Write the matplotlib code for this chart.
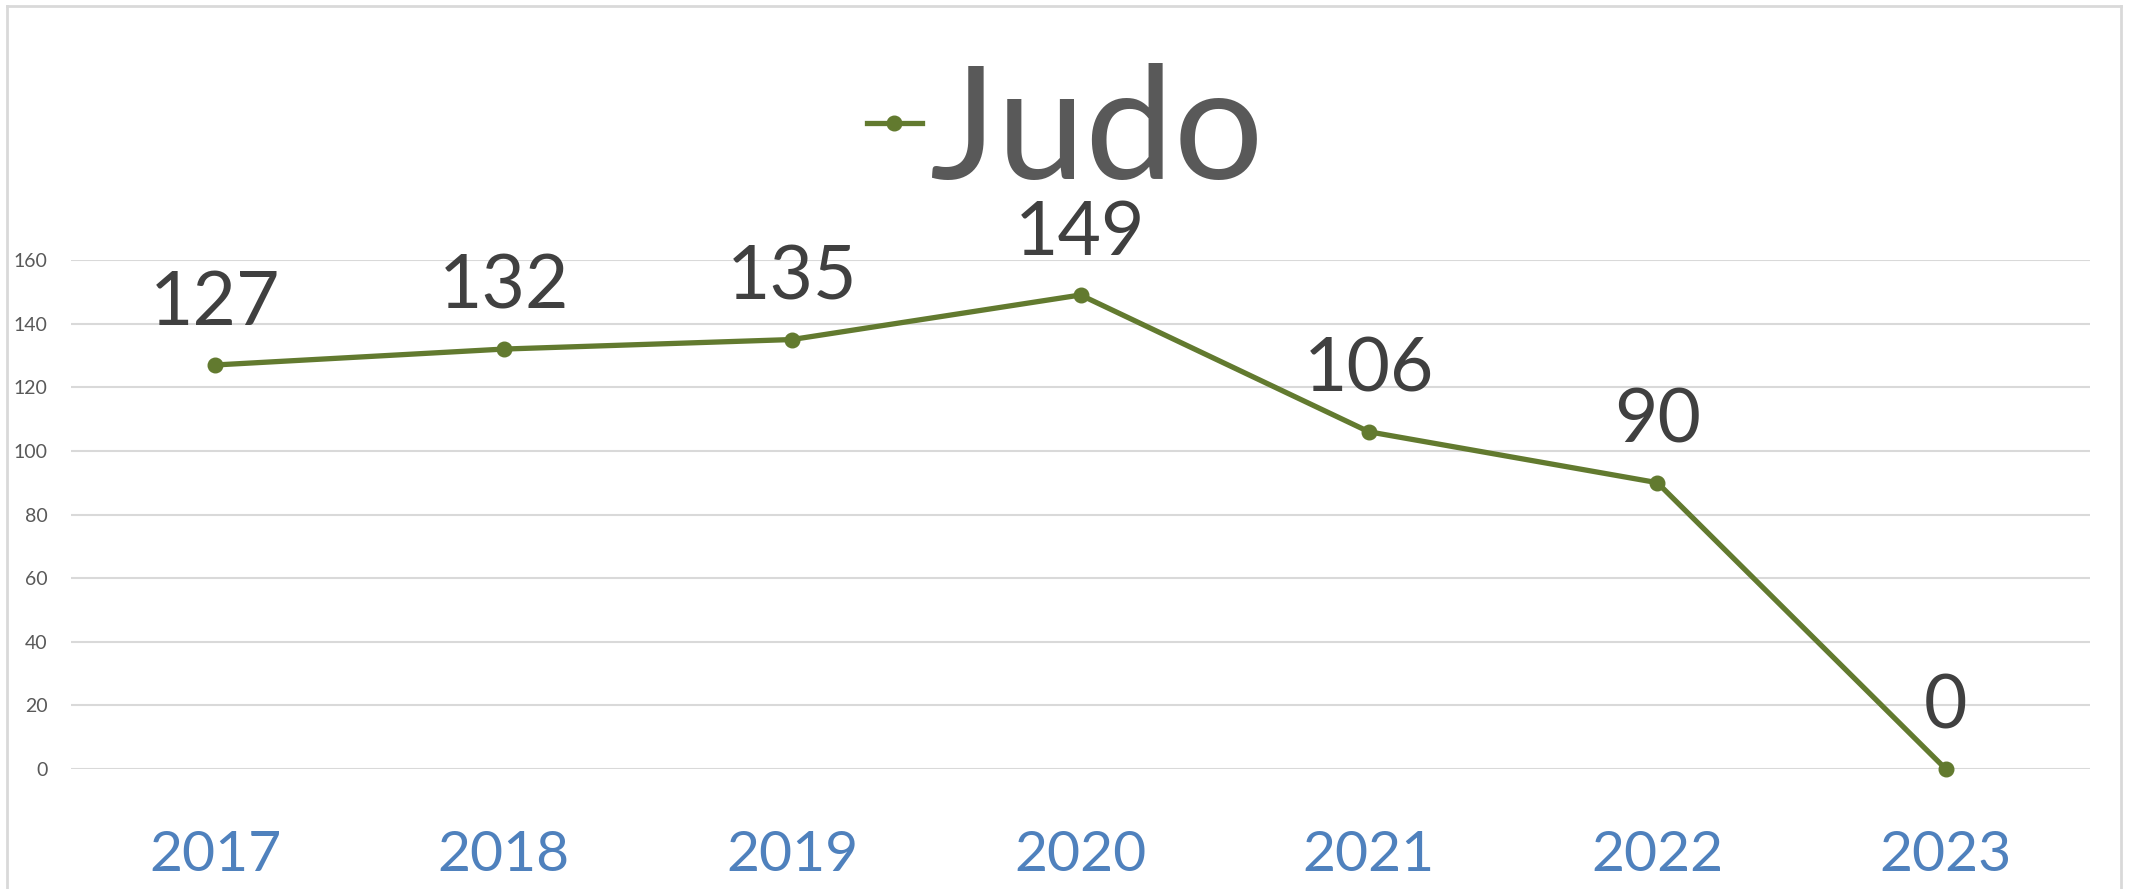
import matplotlib
matplotlib.use("Agg")
import matplotlib.pyplot as plt
from matplotlib.lines import Line2D

years = ['2017', '2018', '2019', '2020', '2021', '2022', '2023']
judo = [127, 132, 135, 149, 106, 90, 0]

green = '#627a2f'
plt.rcParams['font.family'] = ['Lato', 'DejaVu Sans']

fig = plt.figure(figsize=(21.35, 8.89), dpi=100)
ax = fig.add_axes([71 / 2135, 120 / 889, (2090 - 71) / 2135, (769 - 260) / 889])

x = list(range(len(years)))
ax.plot(x, judo, color=green, linewidth=3.8, marker='o', markersize=10.5,
        solid_capstyle='round', label='Judo', clip_on=False, zorder=3)

for xi, v in zip(x, judo):
    ax.annotate(str(v), (xi, v), xytext=(0, 29), textcoords='offset points',
                ha='center', va='baseline', fontsize=54, color='#404040',
                annotation_clip=False)

ax.set_xlim(-0.5, len(years) - 0.5)
ax.set_ylim(0, 160)
ax.set_yticks(range(0, 161, 20))
ax.set_xticks(x)
ax.set_xticklabels(years)
ax.grid(axis='y', color='#d9d9d9', linewidth=1.5)
ax.set_axisbelow(True)
for s in ax.spines.values():
    s.set_visible(False)
ax.tick_params(axis='y', length=0, pad=17, labelsize=14, labelcolor='#595959')
ax.tick_params(axis='x', length=0, pad=44, labelsize=41, labelcolor='#4f81bd')

# chart border (bottom edge is cut off in the original)
bc = '#d9d9d9'
fig.add_artist(Line2D([7 / 2135, 7 / 2135], [0, 1 - 6 / 889], color=bc, lw=2, transform=fig.transFigure))
fig.add_artist(Line2D([7 / 2135, 2121 / 2135], [1 - 6 / 889, 1 - 6 / 889], color=bc, lw=2, transform=fig.transFigure))
fig.add_artist(Line2D([2121 / 2135, 2121 / 2135], [0, 1 - 6 / 889], color=bc, lw=2, transform=fig.transFigure))

handle = Line2D([], [], color=green, linewidth=3.8, marker='o', markersize=10.5)
fig.legend([handle], ['Judo'], loc='center', bbox_to_anchor=(1065 / 2135, 1 - 134 / 889),
           frameon=False, fontsize=114, labelcolor='#595959', handlelength=0.35,
           handletextpad=0.05, numpoints=1, borderpad=0)

fig.savefig('out.png', dpi=100)
